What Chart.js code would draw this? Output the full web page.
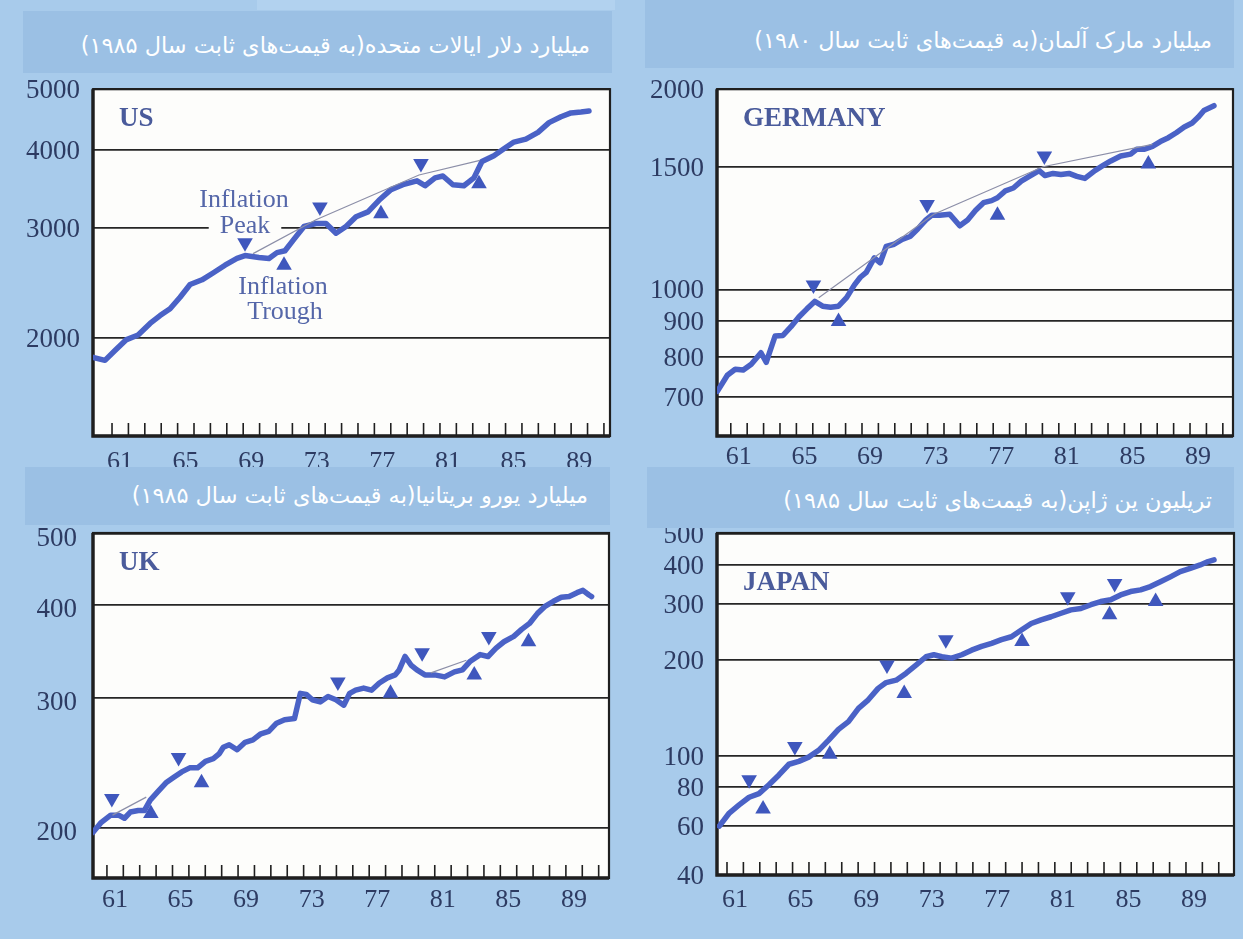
<!DOCTYPE html>
<html lang="fa">
<head>
<meta charset="UTF-8" />
<title>Real GNP, four countries</title>
<script src="https://cdn.jsdelivr.net/npm/chart.js"></script>
<style>
  body {
    margin: 0;
    width: 1243px;
    height: 939px;
    overflow: hidden;
    position: relative;
    background: #a8cbeb;
  }
  canvas { position: absolute; }
  .strip { position: absolute; left: 257px; top: 0; width: 358px; height: 10px; background: #b2d2ef; }
  .bar {
    position: absolute;
    z-index: 2;
    box-sizing: border-box;
    padding-right: 22px;
    background: #9bc0e4;
    color: #fff;
    direction: rtl;
    text-align: right;
    white-space: nowrap;
    font-family: "DejaVu Sans", sans-serif;
    font-size: 22.4px;
  }
</style>
</head>
<body>

<div class="strip"></div>
<div class="bar" style="left:23px;top:11px;width:589px;height:62px;line-height:68px">میلیارد دلار ایالات متحده(به قیمت‌های ثابت سال ۱۹۸۵)</div>
<div class="bar" style="left:645px;top:0;width:589px;height:68px;line-height:80px">میلیارد مارک آلمان(به قیمت‌های ثابت سال ۱۹۸۰)</div>
<div class="bar" style="left:25px;top:467px;width:585px;height:58px;line-height:56px">میلیارد یورو بریتانیا(به قیمت‌های ثابت سال ۱۹۸۵)</div>
<div class="bar" style="left:647px;top:467px;width:587px;height:61px;line-height:66px">تریلیون ین ژاپن(به قیمت‌های ثابت سال ۱۹۸۵)</div>

<canvas id="cUS" width="625" height="410" style="left:0;top:60px"></canvas>
<canvas id="cDE" width="623" height="410" style="left:620px;top:60px"></canvas>
<canvas id="cUK" width="625" height="469" style="left:0;top:470px"></canvas>
<canvas id="cJP" width="623" height="469" style="left:620px;top:470px"></canvas>

<script>
// x axis labels (two-digit years)
const xLabels = ['61', '65', '69', '73', '77', '81', '85', '89'];

// ---- US ----
const usYears = [1959.84,1960.57,1961.18,1961.85,1962.59,1963.32,1963.93,1964.54,1965.15,1965.76,1966.49,1967.16,1967.89,1968.62,1969.11,1969.96,1970.57,1971.06,1971.55,1972.10,1972.71,1973.44,1974.05,1974.66,1975.27,1975.88,1976.61,1977.28,1978.01,1978.74,1979.60,1980.09,1980.70,1981.18,1981.79,1982.46,1983.07,1983.56,1984.29,1984.90,1985.51,1986.24,1986.98,1987.65,1988.38,1988.99,1989.60,1990.09];
const usValues = [1863,1843,1911,1987,2023,2111,2173,2228,2325,2436,2479,2542,2616,2682,2710,2691,2682,2740,2759,2880,3017,3050,3050,2942,3017,3127,3183,3322,3455,3518,3568,3505,3607,3632,3518,3505,3607,3832,3915,4015,4116,4161,4266,4421,4517,4582,4598,4614];
const usPeakYears = [1969.11, 1973.68, 1979.84];
const usPeakValues = [2840, 3240, 3805];
const usTroughYears = [1971.49, 1977.40, 1983.38];
const usTroughValues = [2616, 3161, 3530];
const usTrendYears = [1969.6, 1973.44, 1979.72, 1983.44];
const usTrendValues = [2730, 3093, 3646, 3847];
const usYTicks = [5000, 4000, 3000, 2000];
const usNoteText = ['Inflation', 'Peak', 'Inflation', 'Trough'];
const usNoteYears = [1969.05, 1969.11, 1971.43, 1971.55];
const usNoteValues = [3322, 3017, 2409, 2204];

// ---- Germany ----
const deYears = [1960.18,1960.79,1961.27,1961.76,1962.25,1962.84,1963.16,1963.70,1964.18,1964.67,1965.15,1965.63,1966.12,1966.60,1967.09,1967.57,1968.06,1968.54,1968.90,1969.26,1969.75,1970.11,1970.48,1970.96,1971.45,1971.93,1972.41,1972.90,1973.26,1973.74,1974.35,1974.96,1975.44,1975.93,1976.41,1976.90,1977.26,1977.74,1978.23,1978.71,1979.20,1979.80,1980.16,1980.65,1981.13,1981.62,1982.10,1982.59,1983.20,1983.68,1984.17,1984.77,1985.38,1985.74,1986.23,1986.71,1987.19,1987.68,1988.16,1988.65,1989.13,1989.49,1989.85,1990.46];
const deValues = [714,753,768,766,781,811,786,857,859,884,913,937,961,946,943,946,973,1015,1041,1058,1110,1092,1153,1161,1180,1191,1222,1258,1278,1278,1282,1234,1258,1299,1332,1341,1354,1385,1398,1430,1453,1481,1457,1467,1462,1467,1453,1443,1481,1505,1529,1554,1564,1589,1589,1604,1630,1651,1678,1710,1733,1766,1806,1835];
const dePeakYears = [1966.04, 1972.97, 1980.12];
const dePeakValues = [1015, 1324, 1554];
const deTroughYears = [1967.57, 1977.26, 1986.46];
const deTroughValues = [899, 1278, 1514];
const deTrendYears = [1966.36, 1973.38, 1980.04, 1986.71];
const deTrendValues = [973, 1282, 1500, 1615];
const deYTicks = [2000, 1500, 1000, 900, 800, 700];

// ---- UK ----
const ukYears = [1960.14,1960.62,1961.23,1961.71,1962.07,1962.43,1962.91,1963.28,1963.64,1964.12,1964.60,1965.08,1965.56,1966.05,1966.53,1967.01,1967.49,1967.86,1968.10,1968.46,1968.94,1969.43,1969.91,1970.39,1970.87,1971.35,1971.84,1972.44,1972.80,1973.16,1973.53,1974.01,1974.49,1974.97,1975.45,1975.81,1976.17,1976.66,1977.14,1977.62,1978.11,1978.59,1978.83,1979.19,1979.55,1979.91,1980.40,1981.00,1981.60,1982.20,1982.69,1983.17,1983.77,1984.25,1984.74,1985.22,1985.82,1986.30,1986.78,1987.27,1987.75,1988.24,1988.72,1989.20,1989.68,1990.04,1990.41,1990.57];
const ukValues = [197,203,208,208,206,210,211,211,218,224,230,234,238,241,241,246,248,252,257,259,255,261,263,268,270,277,280,281,304,303,298,296,301,298,293,304,307,309,307,314,319,322,327,341,332,327,322,322,320,325,327,336,343,341,350,357,363,371,378,390,399,405,410,411,416,419,413,411];
const ukPeakYears = [1961.30, 1965.37, 1975.09, 1980.23, 1984.30];
const ukPeakValues = [219, 249, 315, 345, 363];
const ukTroughYears = [1963.68, 1966.77, 1978.30, 1983.41, 1986.72];
const ukTroughValues = [209, 230, 304, 322, 357];
const ukTrendYears = [1961.34, 1963.4, null, 1980.76, 1982.93];
const ukTrendValues = [208, 220, null, 324, 337];
const ukYTicks = [500, 400, 300, 200];

// ---- Japan ----
const jpYears = [1960.53,1961.14,1961.74,1962.35,1962.95,1963.56,1964.17,1964.78,1965.38,1965.98,1966.59,1967.20,1967.80,1968.41,1969.02,1969.62,1970.22,1970.71,1971.32,1971.93,1972.53,1973.14,1973.62,1974.11,1974.71,1975.32,1975.92,1976.53,1977.14,1977.74,1978.35,1978.96,1979.56,1980.16,1980.77,1981.38,1981.98,1982.59,1983.20,1983.80,1984.41,1985.01,1985.62,1986.23,1986.83,1987.44,1988.05,1988.65,1989.26,1989.87,1990.35,1990.71];
const jpValues = [60,66,70,74,76,81,87,94,96,99,104,112,121,128,141,150,163,170,173,182,193,205,208,205,203,208,215,221,226,232,237,249,261,268,274,281,288,291,299,306,310,321,329,333,341,353,366,380,389,399,409,414];
const jpPeakYears = [1962.35, 1965.14, 1970.76, 1974.35, 1981.79, 1984.65];
const jpPeakValues = [84, 107, 193, 232, 317, 349];
const jpTroughYears = [1963.20, 1967.27, 1971.81, 1979.00, 1984.34, 1987.15];
const jpTroughValues = [68, 101, 157, 229, 278, 306];
const jpYTicks = [500, 400, 300, 200, 100, 80, 60, 40];

const LINE = '#4a62c6';
const MARK = '#3f57bd';
const TXT = '#2d3b62';
const SERIF = '"Liberation Serif", "DejaVu Serif", serif';

function pairs(xs, ys) {
  return xs.map((x, i) => ({ x: x, y: ys[i] }));
}

function yearTicks(min, max) {
  const out = [];
  for (let y = Math.ceil(min); y <= Math.floor(max); y++) {
    if (y - min > 0.3 && max - y > 0.3) out.push({ value: y });
  }
  return out;
}

// white plot area, inward year ticks, frame, panel name and notes
const deco = {
  id: 'deco',
  beforeDraw(chart) {
    const { ctx, chartArea: a } = chart;
    ctx.save();
    ctx.fillStyle = '#fdfdfb';
    ctx.fillRect(a.left, a.top, a.right - a.left, a.bottom - a.top);
    ctx.restore();
  },
  beforeDatasetsDraw(chart, args, opts) {
    const { ctx, chartArea: a, scales } = chart;
    const x = scales.x, y = scales.y;
    ctx.save();
    ctx.strokeStyle = '#1f1f1f';
    ctx.lineWidth = 1.6;
    x.ticks.forEach(t => {
      const px = x.getPixelForValue(t.value);
      ctx.beginPath();
      ctx.moveTo(px, a.bottom);
      ctx.lineTo(px, a.bottom - 13);
      ctx.stroke();
    });
    ctx.lineWidth = 2.2;
    ctx.strokeRect(a.left, a.top, a.right - a.left, a.bottom - a.top);
    ctx.lineWidth = 3.4;
    ctx.beginPath();
    ctx.moveTo(a.left, a.top);
    ctx.lineTo(a.left, a.bottom);
    ctx.lineTo(a.right, a.bottom);
    ctx.stroke();

    ctx.font = 'bold 27px ' + SERIF;
    ctx.fillStyle = '#4a5b9b';
    ctx.textBaseline = 'middle';
    ctx.textAlign = 'left';
    ctx.fillText(opts.name, a.left + 26, a.top + opts.nameDy);

    const notes = opts.notes || [];
    ctx.font = '26px ' + SERIF;
    ctx.textAlign = 'center';
    notes.forEach(n => {
      const px = x.getPixelForValue(n.x);
      const py = y.getPixelForValue(n.y);
      if (n.box) {
        const w = ctx.measureText(n.text).width + 22;
        ctx.fillStyle = '#fdfdfb';
        ctx.fillRect(px - w / 2, py - 11, w, 22);
      }
      ctx.fillStyle = '#5567a9';
      ctx.fillText(n.text, px, py);
    });
    ctx.restore();
  }
};

function makeChart(id, c) {
  const datasets = [
    { data: pairs(c.years, c.values), borderColor: LINE, borderWidth: 5.5, pointRadius: 0, tension: 0,
      borderJoinStyle: 'round', borderCapStyle: 'round', order: 3 },
    { data: pairs(c.peakYears, c.peakValues), showLine: false, pointStyle: 'triangle', rotation: 180,
      pointRadius: 9, pointBackgroundColor: MARK, pointBorderWidth: 0, order: 1 },
    { data: pairs(c.troughYears, c.troughValues), showLine: false, pointStyle: 'triangle',
      pointRadius: 9, pointBackgroundColor: MARK, pointBorderWidth: 0, order: 1 }
  ];
  if (c.trendYears) {
    datasets.push({ data: pairs(c.trendYears, c.trendValues), borderColor: '#8c8fa8', borderWidth: 1.2,
      pointRadius: 0, tension: 0, spanGaps: false, order: 2 });
  }
  return new Chart(document.getElementById(id), {
    type: 'line',
    data: { datasets: datasets },
    options: {
      responsive: false,
      animation: false,
      layout: { padding: c.pad },
      plugins: {
        legend: { display: false },
        tooltip: { enabled: false },
        deco: { name: c.name, nameDy: c.nameDy, notes: c.notes }
      },
      scales: {
        x: {
          type: 'linear',
          min: c.xMin,
          max: c.xMax,
          afterBuildTicks: s => { s.ticks = yearTicks(c.xMin, c.xMax); },
          afterFit: s => { s.height = c.xAxisH; },
          grid: { display: false, drawTicks: false },
          border: { display: false },
          ticks: {
            autoSkip: false,
            maxRotation: 0,
            padding: c.xPad,
            labelOffset: 8,
            color: TXT,
            font: { family: SERIF, size: 26 },
            callback: v => {
              const l = String(Math.round(v) % 100);
              return xLabels.includes(l) ? l : '';
            }
          }
        },
        y: {
          type: 'logarithmic',
          min: c.yMin,
          max: c.yMax,
          afterBuildTicks: s => {
            s.ticks = c.yTicks.map(v => ({ value: Math.min(c.yMax, Math.max(c.yMin, v)) }));
          },
          afterFit: s => { s.width = c.yAxisW; },
          grid: { color: '#262626', lineWidth: 1.8, drawTicks: false },
          border: { display: false },
          ticks: {
            padding: c.yPad,
            labelOffset: c.yLabelOffset,
            color: TXT,
            font: { family: SERIF, size: 27 },
            callback: (v, i) => String(c.yTicks[i])
          }
        }
      }
    },
    plugins: [deco]
  });
}

makeChart('cUS', {
  name: 'US', nameDy: 30,
  years: usYears, values: usValues,
  peakYears: usPeakYears, peakValues: usPeakValues,
  troughYears: usTroughYears, troughValues: usTroughValues,
  trendYears: usTrendYears, trendValues: usTrendValues,
  notes: usNoteText.map((t, i) => ({ text: t, x: usNoteYears[i], y: usNoteValues[i], box: t === 'Peak' })),
  xMin: 1959.84, xMax: 1991.37, yMin: 1395, yMax: 5000, yTicks: usYTicks,
  pad: { top: 17, right: 15, left: 0, bottom: 0 }, yAxisW: 93, xAxisH: 34, xPad: 11, yPad: 13, yLabelOffset: 2
});

makeChart('cDE', {
  name: 'GERMANY', nameDy: 30,
  years: deYears, values: deValues,
  peakYears: dePeakYears, peakValues: dePeakValues,
  troughYears: deTroughYears, troughValues: deTroughValues,
  trendYears: deTrendYears, trendValues: deTrendValues,
  xMin: 1960.16, xMax: 1991.62, yMin: 616, yMax: 1938, yTicks: deYTicks,
  pad: { top: 18, right: 10, left: 0, bottom: 0 }, yAxisW: 97, xAxisH: 34, xPad: 6, yPad: 13, yLabelOffset: 2
});

makeChart('cUK', {
  name: 'UK', nameDy: 30,
  years: ukYears, values: ukValues,
  peakYears: ukPeakYears, peakValues: ukPeakValues,
  troughYears: ukTroughYears, troughValues: ukTroughValues,
  trendYears: ukTrendYears, trendValues: ukTrendValues,
  xMin: 1960.15, xMax: 1991.63, yMin: 171, yMax: 501, yTicks: ukYTicks,
  pad: { top: 63, right: 16, left: 0, bottom: 0 }, yAxisW: 93, xAxisH: 61, xPad: 7, yPad: 16, yLabelOffset: 5
});

makeChart('cJP', {
  name: 'JAPAN', nameDy: 50,
  years: jpYears, values: jpValues,
  peakYears: jpPeakYears, peakValues: jpPeakValues,
  troughYears: jpTroughYears, troughValues: jpTroughValues,
  xMin: 1960.39, xMax: 1991.93, yMin: 42.1, yMax: 503, yTicks: jpYTicks,
  pad: { top: 63, right: 9, left: 0, bottom: 0 }, yAxisW: 97, xAxisH: 64, xPad: 10, yPad: 13, yLabelOffset: 2
});
</script>
</body>
</html>
